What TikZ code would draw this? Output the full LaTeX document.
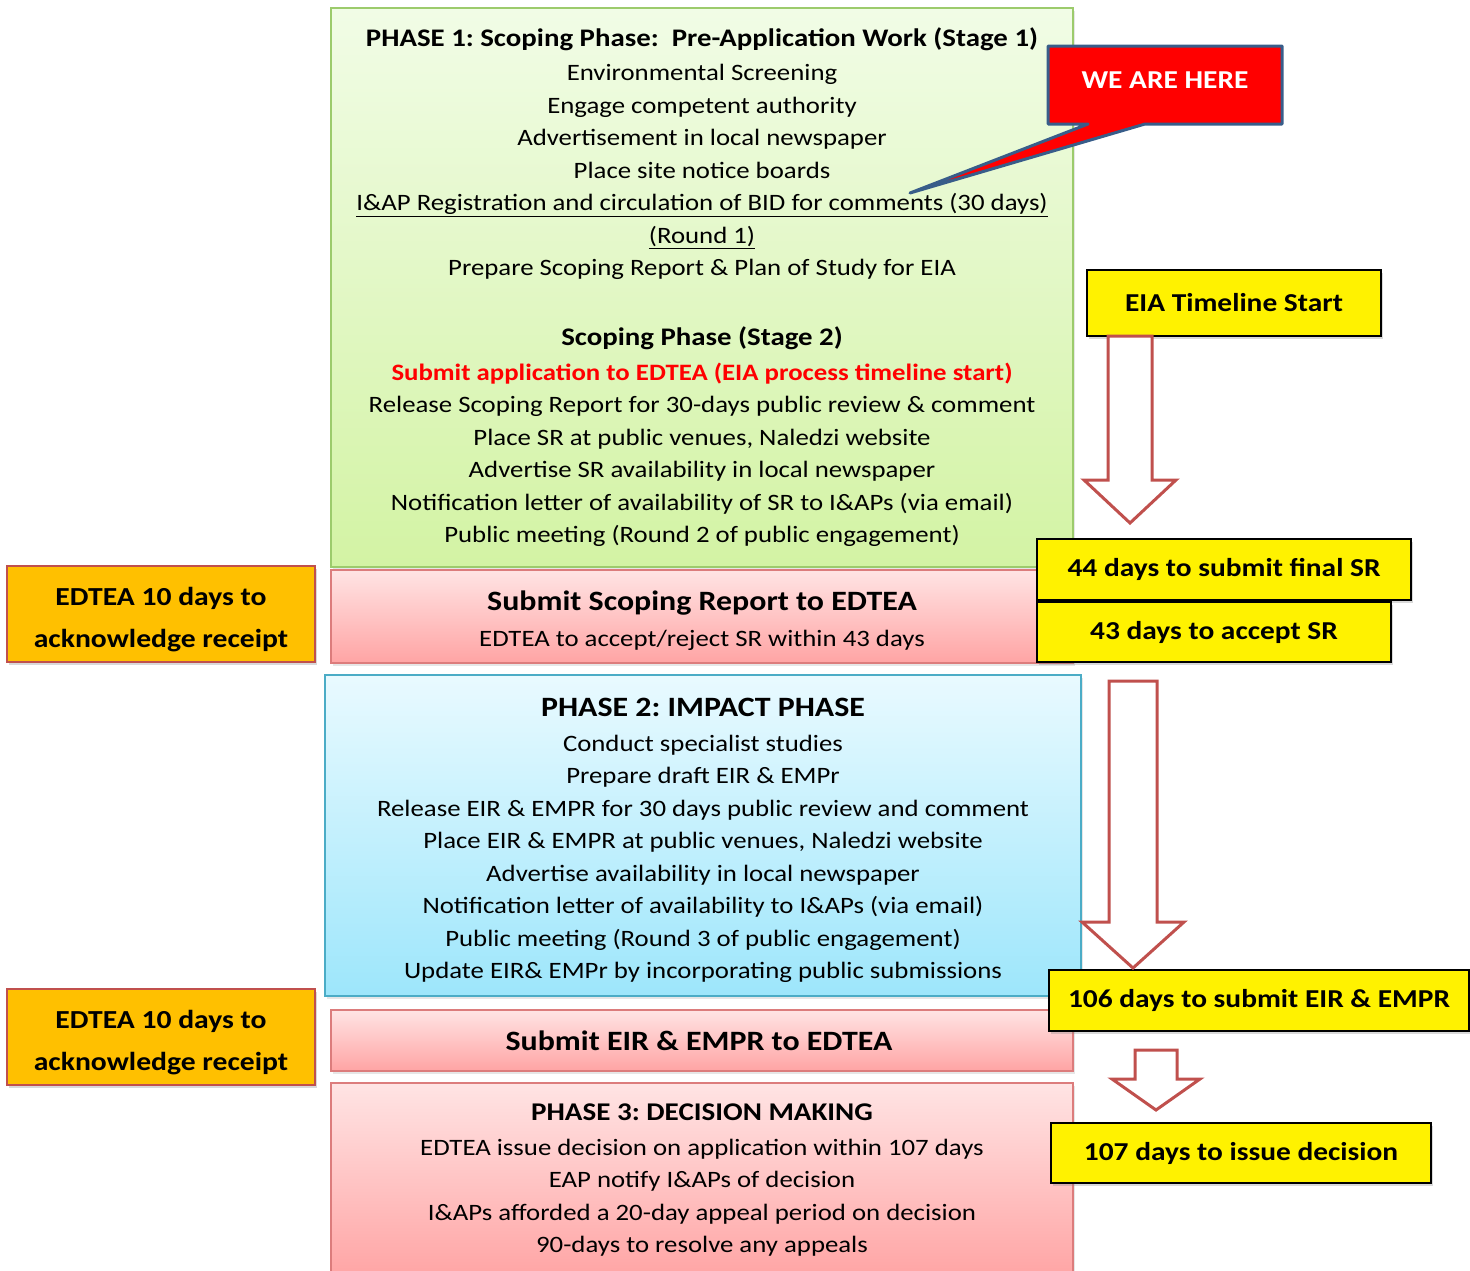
\documentclass[tikz,border=0pt]{standalone}
\usepackage{fontspec}
\setmainfont{Carlito}[FakeStretch=1.14]
\frenchspacing
\usetikzlibrary{positioning,shadows,calc}

\definecolor{greentop}{HTML}{F1FCE6}
\definecolor{greenbot}{HTML}{D3F3A4}
\definecolor{greenline}{HTML}{9CCB6C}
\definecolor{pinktop}{HTML}{FFE4E4}
\definecolor{pinkbot}{HTML}{FFA4A4}
\definecolor{pinkline}{HTML}{DC7C7C}
\definecolor{bluetop}{HTML}{E9FAFF}
\definecolor{bluebot}{HTML}{9DE6FB}
\definecolor{blueline}{HTML}{4BACC6}
\definecolor{ackfill}{HTML}{FFC000}
\definecolor{ackline}{HTML}{C0504D}
\definecolor{arrowred}{HTML}{C0504D}
\definecolor{calloutblue}{HTML}{385D8A}

\newcommand{\bodyfont}{\fontsize{23.5}{32.5}\selectfont}
\newcommand{\headfont}{\fontsize{28}{32.5}\selectfont\bfseries}
\newcommand{\ackfont}{\fontsize{26}{42}\selectfont\bfseries}
\newcommand{\daysfont}{\fontsize{25.8}{30}\selectfont\bfseries}

% hollow block arrow: from, to, shaft half width, head half width, head length
\newcommand{\hollowarrow}[5]{%
  \draw[blockarrow] let \p1=(#1), \p2=(#2) in
    (\x1-#3,\y1) -- (\x1+#3,\y1) -- (\x1+#3,\y2+#5) -- (\x1+#4,\y2+#5)
    -- (\x1,\y2) -- (\x1-#4,\y2+#5) -- (\x1-#3,\y2+#5) -- cycle;
}

\begin{document}
\begin{tikzpicture}[x=1pt, y=-1pt,
    phase/.style={rectangle, line width=1.2pt, align=center, minimum width=742pt, inner sep=0pt, outer sep=0pt,
        font=\bodyfont, drop shadow={shadow xshift=1.5pt, shadow yshift=-2.5pt, opacity=.2}},
    scoping/.style={draw=greenline, top color=greentop, bottom color=greenbot},
    submit/.style={draw=pinkline, top color=pinktop, bottom color=pinkbot},
    impact/.style={draw=blueline, top color=bluetop, bottom color=bluebot},
    ackbox/.style={rectangle, draw=ackline, fill=ackfill, line width=1.5pt, minimum width=308pt, minimum height=96pt,
        outer sep=0pt, align=center, font=\ackfont, drop shadow={shadow xshift=2pt, shadow yshift=-3pt, opacity=.3}},
    daysbox/.style={rectangle, draw=black, fill=yellow, line width=1.8pt, minimum height=61pt, inner sep=0pt,
        outer sep=0pt, font=\daysfont, drop shadow={shadow xshift=2pt, shadow yshift=-3pt, opacity=.3}},
    blockarrow/.style={draw=arrowred, fill=white, line width=3pt, line join=miter},
    callout/.style={fill=red, draw=calloutblue, line width=3pt, line join=round}
]
    \useasboundingbox (0,0) rectangle (1470,1270);

    % phase boxes, top to bottom
    \node[phase, scoping, minimum height=559pt] (phase1) at (702,287.5) {
        {\fontsize{25.3}{32.5}\selectfont\bfseries PHASE 1: Scoping Phase:\ \ Pre-Application Work (Stage 1)}\\[1.5pt]
        Environmental Screening\\
        Engage competent authority\\
        Advertisement in local newspaper\\
        Place site notice boards\\
        \underline{I\&AP Registration and circulation of BID for comments (30 days)}\\
        \underline{(Round 1)}\\
        Prepare Scoping Report \& Plan of Study for EIA\\[37pt]
        {\fontsize{25.3}{32.5}\selectfont\bfseries Scoping Phase (Stage 2)}\\[2.5pt]
        \textcolor{red}{\textbf{Submit application to EDTEA (EIA process timeline start)}}\\
        Release Scoping Report for 30-days public review \& comment\\
        Place SR at public venues, Naledzi website\\
        Advertise SR availability in local newspaper\\
        Notification letter of availability of SR to I\&APs (via email)\\
        Public meeting (Round 2 of public engagement)
    };

    \node[phase, submit, minimum height=93pt, below=3pt of phase1] (srsubmit) {
        \rule{0pt}{29pt}{\headfont Submit Scoping Report to EDTEA}\\[3.5pt]
        EDTEA to accept/reject SR within 43 days
    };

    \node[phase, impact, minimum width=756pt, minimum height=321pt, below=12pt of srsubmit, xshift=1pt] (phase2) {
        \rule{0pt}{29pt}{\headfont PHASE 2: IMPACT PHASE}\\[2pt]
        Conduct specialist studies\\
        Prepare draft EIR \& EMPr\\
        Release EIR \& EMPR for 30 days public review and comment\\
        Place EIR \& EMPR at public venues, Naledzi website\\
        Advertise availability in local newspaper\\
        Notification letter of availability to I\&APs (via email)\\
        Public meeting (Round 3 of public engagement)\\
        Update EIR\& EMPr by incorporating public submissions
    };

    \node[phase, submit, minimum height=61pt, below=14pt of phase2, xshift=-1pt] (eirsubmit) {
        {\headfont Submit EIR \& EMPR to EDTEA}
    };

    \node[phase, submit, minimum height=195pt, below=12pt of eirsubmit] (phase3) {
        {\fontsize{25.5}{32.5}\selectfont\bfseries PHASE 3: DECISION MAKING}\\[2pt]
        EDTEA issue decision on application within 107 days\\
        EAP notify I\&APs of decision\\
        I\&APs afforded a 20-day appeal period on decision\\
        90-days to resolve any appeals
    };

    % acknowledgement boxes on the left
    \node[ackbox, left=16pt of srsubmit, yshift=2.5pt] (ack1) {\rule{0pt}{29pt}EDTEA 10 days to\\acknowledge receipt};
    \node[ackbox, left=16pt of eirsubmit, yshift=3.5pt] (ack2) {\rule{0pt}{29pt}EDTEA 10 days to\\acknowledge receipt};

    % timeline boxes on the right
    \node[daysbox, minimum width=294pt, minimum height=66pt] (tlstart) at (1234,303) {EIA Timeline Start};
    \node[daysbox, minimum width=374pt] (sr44) at (1224,569.5) {44 days to submit final SR};
    \node[daysbox, minimum width=354pt, minimum height=60pt, below=2pt of sr44.south west, anchor=north west] (sr43) {43 days to accept SR};
    \node[daysbox, minimum width=420pt] (eir106) at (1259,1000.5) {106 days to submit EIR \& EMPR};
    \node[daysbox, minimum width=380pt, minimum height=60pt] (dec107) at (1241,1153) {107 days to issue decision};

    % block arrows between the timeline boxes
    \coordinate (a1s) at ($(tlstart.south)+(-104,0)$);
    \coordinate (a1e) at ($(sr44.north -| a1s)+(0,-16)$);
    \hollowarrow{a1s}{a1e}{22pt}{46pt}{43pt}

    \coordinate (a2s) at ($(sr43.south)+(-81,19)$);
    \coordinate (a2e) at ($(eir106.north -| a2s)+(0,-2)$);
    \hollowarrow{a2s}{a2e}{24pt}{51pt}{46pt}

    \coordinate (a3s) at ($(eir106.south)+(-103,19)$);
    \coordinate (a3e) at ($(dec107.north -| a3s)+(0,-13)$);
    \hollowarrow{a3s}{a3e}{21pt}{44pt}{31pt}

    % callout
    \coordinate (herept) at (910,193);
    \draw[callout] (1048,46) -- (1282,46) -- (1282,124) -- (1145,124) -- (herept) -- (1088,124) -- (1048,124) -- cycle;
    \node[font=\daysfont, text=white] (here) at (1165,80) {WE ARE HERE};
\end{tikzpicture}
\end{document}
